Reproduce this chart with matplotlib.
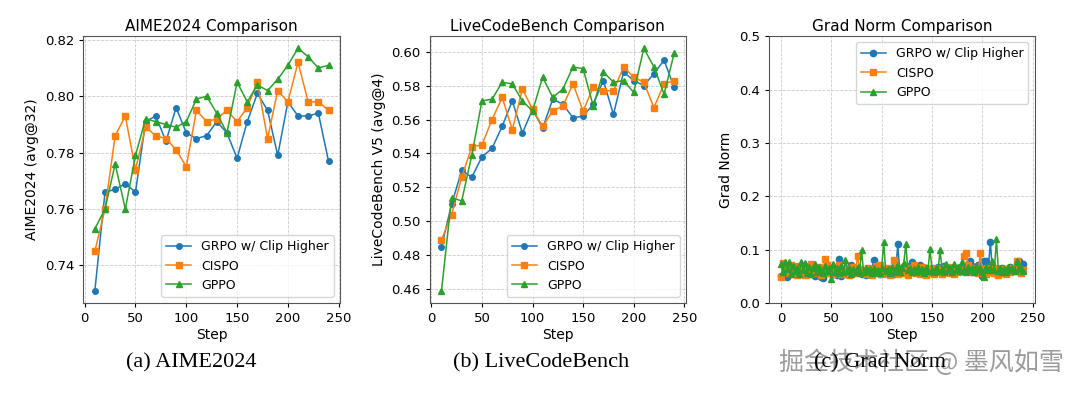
import matplotlib
matplotlib.use("Agg")
import matplotlib.pyplot as plt

# --- data ---
eval_steps = list(range(10, 250, 10))

aime_grpo = [0.731, 0.766, 0.767, 0.769, 0.766, 0.791, 0.793, 0.784, 0.796, 0.787, 0.785, 0.786,
             0.791, 0.787, 0.778, 0.791, 0.801, 0.795, 0.779, 0.798, 0.793, 0.793, 0.794, 0.777]
aime_cispo = [0.745, 0.760, 0.786, 0.793, 0.774, 0.789, 0.786, 0.785, 0.781, 0.775, 0.795, 0.791,
              0.792, 0.795, 0.791, 0.796, 0.805, 0.785, 0.802, 0.798, 0.812, 0.798, 0.798, 0.795]
aime_gppo = [0.753, 0.760, 0.776, 0.760, 0.779, 0.792, 0.791, 0.790, 0.789, 0.791, 0.799, 0.800,
             0.794, 0.787, 0.805, 0.798, 0.804, 0.802, 0.806, 0.811, 0.817, 0.814, 0.810, 0.811]

lcb_grpo = [0.485, 0.510, 0.530, 0.526, 0.538, 0.543, 0.556, 0.571, 0.552, 0.566, 0.555, 0.572,
            0.569, 0.561, 0.562, 0.569, 0.583, 0.563, 0.588, 0.583, 0.580, 0.587, 0.595, 0.579]
lcb_cispo = [0.489, 0.504, 0.526, 0.544, 0.545, 0.560, 0.573, 0.554, 0.578, 0.566, 0.556, 0.565,
             0.568, 0.581, 0.565, 0.579, 0.577, 0.577, 0.591, 0.585, 0.582, 0.567, 0.581, 0.583]
lcb_gppo = [0.459, 0.514, 0.512, 0.539, 0.571, 0.572, 0.582, 0.581, 0.571, 0.565, 0.585, 0.573,
            0.578, 0.591, 0.590, 0.568, 0.588, 0.582, 0.583, 0.576, 0.602, 0.591, 0.575, 0.599]

grad_steps = list(range(0, 241, 2))

grad_grpo = [0.050, 0.072, 0.060, 0.048, 0.066, 0.058, 0.070, 0.055, 0.063, 0.057, 0.068, 0.054,
             0.061, 0.066, 0.055, 0.060, 0.064, 0.051, 0.059, 0.062, 0.049, 0.047, 0.060, 0.066,
             0.056, 0.061, 0.054, 0.063, 0.052, 0.083, 0.050, 0.058, 0.062, 0.055, 0.060, 0.071,
             0.057, 0.064, 0.058, 0.062, 0.054, 0.060, 0.052, 0.063, 0.057, 0.061, 0.081, 0.058,
             0.062, 0.055, 0.064, 0.059, 0.056, 0.063, 0.058, 0.060, 0.054, 0.062, 0.110, 0.058,
             0.066, 0.060, 0.063, 0.068, 0.070, 0.076, 0.064, 0.061, 0.067, 0.072, 0.063, 0.060,
             0.066, 0.058, 0.062, 0.065, 0.059, 0.063, 0.067, 0.061, 0.064, 0.069, 0.060, 0.066,
             0.062, 0.058, 0.064, 0.060, 0.066, 0.062, 0.068, 0.065, 0.060, 0.074, 0.078, 0.070,
             0.063, 0.067, 0.072, 0.061, 0.050, 0.079, 0.078, 0.066, 0.114, 0.062, 0.066, 0.060,
             0.064, 0.058, 0.066, 0.061, 0.064, 0.060, 0.068, 0.062, 0.065, 0.072, 0.079, 0.066,
             0.074]
grad_cispo = [0.048, 0.075, 0.062, 0.070, 0.056, 0.072, 0.060, 0.066, 0.053, 0.069, 0.058, 0.064,
              0.052, 0.067, 0.061, 0.074, 0.056, 0.063, 0.058, 0.068, 0.053, 0.065, 0.082, 0.072,
              0.057, 0.063, 0.055, 0.066, 0.059, 0.071, 0.054, 0.062, 0.057, 0.065, 0.052, 0.061,
              0.067, 0.056, 0.088, 0.064, 0.058, 0.062, 0.055, 0.066, 0.060, 0.053, 0.064, 0.070,
              0.057, 0.072, 0.055, 0.063, 0.058, 0.066, 0.053, 0.061, 0.080, 0.059, 0.054, 0.064,
              0.057, 0.068, 0.060, 0.053, 0.065, 0.058, 0.072, 0.056, 0.063, 0.054, 0.068, 0.059,
              0.053, 0.064, 0.057, 0.062, 0.055, 0.066, 0.058, 0.061, 0.054, 0.065, 0.059, 0.063,
              0.056, 0.067, 0.054, 0.061, 0.058, 0.065, 0.060, 0.088, 0.093, 0.072, 0.063, 0.058,
              0.066, 0.060, 0.056, 0.094, 0.058, 0.064, 0.055, 0.066, 0.059, 0.063, 0.056, 0.065,
              0.053, 0.061, 0.057, 0.064, 0.055, 0.062, 0.058, 0.066, 0.060, 0.078, 0.064, 0.057,
              0.062]
grad_gppo = [0.074, 0.058, 0.077, 0.063, 0.076, 0.055, 0.070, 0.060, 0.066, 0.054, 0.077, 0.061,
             0.075, 0.057, 0.068, 0.055, 0.065, 0.073, 0.058, 0.067, 0.062, 0.056, 0.070, 0.060,
             0.066, 0.045, 0.074, 0.059, 0.065, 0.056, 0.069, 0.058, 0.081, 0.060, 0.066, 0.055,
             0.064, 0.058, 0.067, 0.056, 0.100, 0.058, 0.066, 0.060, 0.064, 0.057, 0.065, 0.059,
             0.062, 0.056, 0.066, 0.114, 0.060, 0.064, 0.057, 0.068, 0.059, 0.063, 0.072, 0.058,
             0.066, 0.075, 0.111, 0.061, 0.066, 0.059, 0.064, 0.058, 0.067, 0.060, 0.063, 0.057,
             0.065, 0.060, 0.102, 0.062, 0.058, 0.066, 0.060, 0.099, 0.063, 0.058, 0.074, 0.061,
             0.066, 0.059, 0.074, 0.062, 0.067, 0.060, 0.077, 0.063, 0.058, 0.068, 0.061, 0.065,
             0.059, 0.070, 0.062, 0.066, 0.058, 0.048, 0.067, 0.061, 0.065, 0.078, 0.062, 0.119,
             0.060, 0.066, 0.059, 0.064, 0.058, 0.067, 0.061, 0.065, 0.060, 0.078, 0.063, 0.066,
             0.060]

labels = ["GRPO w/ Clip Higher", "CISPO", "GPPO"]
markers = ["o", "s", "^"]
colors = ["#1f77b4", "#ff7f0e", "#2ca02c"]

fig = plt.figure(figsize=(10.8, 3.93), dpi=100)
ax1 = fig.add_axes([0.077, 0.229, 0.238, 0.679])
ax2 = fig.add_axes([0.398, 0.229, 0.237, 0.679])
ax3 = fig.add_axes([0.712, 0.229, 0.246, 0.679])


def draw(ax, x, series, ms):
    for ys, lab, m, c in zip(series, labels, markers, colors):
        ax.plot(x, ys, marker=m, color=c, label=lab, markersize=ms, linewidth=1.1)
    ax.grid(True, linestyle="--", color="#cccccc", linewidth=0.6)
    ax.set_xlabel("Step", fontsize=10, labelpad=2)
    ax.tick_params(labelsize=9.5, length=3)
    ax.set_xticks([0, 50, 100, 150, 200, 250])
    for s in ax.spines.values():
        s.set_color("#555555")


draw(ax1, eval_steps, [aime_grpo, aime_cispo, aime_gppo], 4)
ax1.set_title("AIME2024 Comparison", fontsize=11, pad=4)
ax1.set_ylabel("AIME2024 (avg@32)", fontsize=10)
ax1.legend(loc="lower right", fontsize=9)

draw(ax2, eval_steps, [lcb_grpo, lcb_cispo, lcb_gppo], 4)
ax2.set_title("LiveCodeBench Comparison", fontsize=11, pad=4)
ax2.set_ylabel("LiveCodeBench V5 (avg@4)", fontsize=10)
ax2.legend(loc="lower right", fontsize=9)

draw(ax3, grad_steps, [grad_grpo, grad_cispo, grad_gppo], 4.5)
ax3.set_title("Grad Norm Comparison", fontsize=11, pad=4)
ax3.set_ylabel("Grad Norm", fontsize=10)
ax3.set_ylim(0, 0.5)
ax3.legend(loc="upper right", fontsize=9)

# watermark (drawn under the caption so the caption shows through)
fig.text(0.853, 0.076, "掘金技术社区 @ 墨风如雪", fontsize=18, color="#8a8a8a", alpha=0.85,
         family=["Noto Sans CJK SC", "DejaVu Sans"], ha="center", va="center", zorder=1)

# subfigure captions
cap_font = dict(fontsize=16, family=["Liberation Serif", "DejaVu Serif"], ha="center", va="center",
                zorder=2)
fig.text(0.177, 0.076, "(a) AIME2024", **cap_font)
fig.text(0.501, 0.076, "(b) LiveCodeBench", **cap_font)
fig.text(0.815, 0.076, "(c) Grad Norm", **cap_font)

fig.savefig("out.png", dpi=100)
